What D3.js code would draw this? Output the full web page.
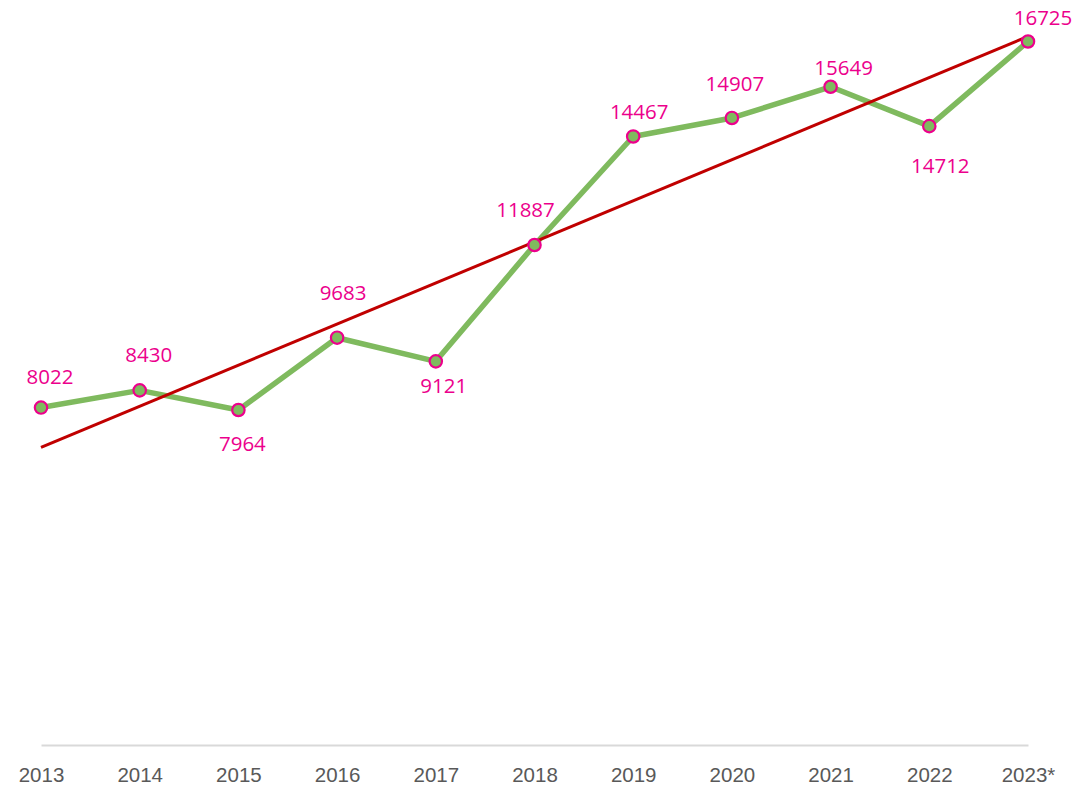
<!DOCTYPE html>
<html>
<head>
<meta charset="utf-8">
<script src="https://cdn.jsdelivr.net/npm/d3@7"></script>
<style>
  html, body { margin: 0; padding: 0; background: #fff; }
  svg { display: block; }
</style>
</head>
<body>
<div id="chart-container"></div>
<script>
// Dữ liệu
const years = ["2013", "2014", "2015", "2016", "2017", "2018", "2019", "2020", "2021", "2022", "2023*"];
const values = [8022, 8430, 7964, 9683, 9121, 11887, 14467, 14907, 15649, 14712, 16725];

// Vị trí nhãn (chỉ là bố cục, không phải dữ liệu)
const labelDx = [9, 9, 4, 6, 8, -9, 6, 3, 13, 11, 15];
const labelDy = [-32, -36, 33, -46, 24, -36, -25, -35, -20, 39, -25];

const width = 1083;
const height = 787;

const svg = d3.select("#chart-container")
    .append("svg")
    .attr("width", width)
    .attr("height", height)
    .style("font-family", "'Open Sans', 'Liberation Sans', Arial, sans-serif");

const xScale = d3.scalePoint()
    .domain(years)
    .range([41, 1028]);

const yScale = d3.scaleLinear()
    .domain([0, d3.max(values)])
    .range([745, 41.5]);

// Trục x
const xAxis = svg.append("g")
    .attr("transform", `translate(0,${yScale(0)})`)
    .call(d3.axisBottom(xScale).tickSize(0).tickPadding(22));
xAxis.select(".domain")
    .attr("stroke", "#d9d9d9")
    .attr("stroke-width", 2);
xAxis.selectAll(".tick text")
    .attr("fill", "#595959")
    .style("font-size", "20.5px");

// Đường xu hướng (hồi quy tuyến tính)
const idx = d3.range(values.length);
const mx = d3.mean(idx), my = d3.mean(values);
const slope = d3.sum(idx, i => (i - mx) * (values[i] - my)) / d3.sum(idx, i => (i - mx) ** 2);
const intercept = my - slope * mx;
const trend = [0, values.length - 1].map(i => ({ year: years[i], v: intercept + slope * i }));

// Đường dữ liệu
const line = d3.line()
    .x((d, i) => xScale(years[i]))
    .y(d => yScale(d));

svg.append("path")
    .datum(values)
    .attr("fill", "none")
    .attr("stroke", "#7fba5e")
    .attr("stroke-width", 5.5)
    .attr("stroke-linejoin", "round")
    .attr("d", line);

svg.append("path")
    .datum(trend)
    .attr("fill", "none")
    .attr("stroke", "#c00000")
    .attr("stroke-width", 3)
    .attr("d", d3.line().x(d => xScale(d.year)).y(d => yScale(d.v)));

// Điểm
svg.selectAll("circle.pt")
    .data(values)
    .join("circle")
    .attr("class", "pt")
    .attr("cx", (d, i) => xScale(years[i]))
    .attr("cy", d => yScale(d))
    .attr("r", 6.2)
    .attr("fill", "#7fba5e")
    .attr("stroke", "#ec008c")
    .attr("stroke-width", 2.2);

// Nhãn giá trị
svg.selectAll("text.lbl")
    .data(values)
    .join("text")
    .attr("class", "lbl")
    .attr("x", (d, i) => xScale(years[i]) + labelDx[i])
    .attr("y", (d, i) => yScale(d) + labelDy[i])
    .attr("text-anchor", "middle")
    .attr("dominant-baseline", "central")
    .attr("fill", "#ec008c")
    .style("font-size", "20.5px")
    .text(d => d);
</script>
</body>
</html>
